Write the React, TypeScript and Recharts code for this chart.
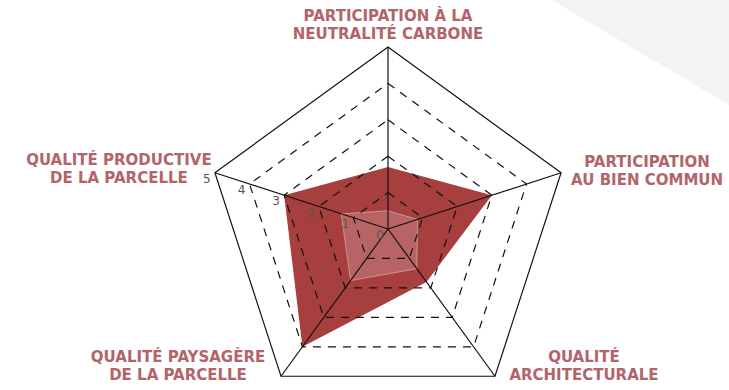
import { RadarChart, Radar, PolarGrid, PolarAngleAxis, PolarRadiusAxis } from 'recharts';

// axis names, clockwise from the top
const criteria = [
  'PARTICIPATION À LA\nNEUTRALITÉ CARBONE',
  'PARTICIPATION\nAU BIEN COMMUN',
  'QUALITÉ\nARCHITECTURALE',
  'QUALITÉ PAYSAGÈRE\nDE LA PARCELLE',
  'QUALITÉ PRODUCTIVE\nDE LA PARCELLE',
];
const projectScores = [1.7, 3, 1.8, 4, 3];
const referenceScores = [0.5, 0.85, 1.35, 1.75, 1.35];
const scaleTicks = [0, 1, 2, 3, 4, 5];

const data = criteria.map((name, i) => ({
  name,
  project: projectScores[i],
  reference: referenceScores[i],
}));

const CX = 388;
const CY = 229;
const R = 182;
const ANGLES = [90, 18, -54, -126, -198];

// label block offsets from the outer vertex, per axis
const labelOffsets = [
  { dx: 0, dy: -22 },
  { dx: 86, dy: -2 },
  { dx: 89, dy: -10 },
  { dx: -103, dy: -10 },
  { dx: -96, dy: -4 },
];

const AngleTick = ({ payload }: any) => {
  const i = payload.index;
  const a = ((90 - i * 72) * Math.PI) / 180;
  const vx = CX + R * Math.cos(a);
  const vy = CY - R * Math.sin(a);
  const off = labelOffsets[i];
  const lines = String(payload.value).split('\n');
  return (
    <text
      x={vx + off.dx}
      y={vy + off.dy}
      textAnchor="middle"
      fill="#b2646a"
      fontFamily="'DejaVu Sans', sans-serif"
      fontWeight={700}
      fontSize={15}
    >
      {lines.map((l, k) => (
        <tspan key={k} x={vx + off.dx} dy={k === 0 ? -4 : 18}>
          {l}
        </tspan>
      ))}
    </text>
  );
};

const RadiusTick = ({ x, y, payload }: any) => (
  <text
    x={x - 8}
    y={y + 10}
    textAnchor="middle"
    fill="#555"
    fontFamily="'DejaVu Sans', sans-serif"
    fontSize={12}
  >
    {payload.value}
  </text>
);

export default function App() {
  return (
    <div style={{ position: 'fixed', left: 0, top: 0, width: 729, height: 390, background: '#fff' }}>
      <svg width={729} height={390} style={{ position: 'absolute', left: 0, top: 0 }}>
        <polygon points="552,0 729,0 729,105" fill="#f3f3f3" />
      </svg>
      <div style={{ position: 'absolute', left: 0, top: 0 }}>
        <RadarChart
          width={729}
          height={390}
          data={data}
          cx={CX}
          cy={CY}
          outerRadius={R}
          margin={{ top: 0, right: 0, bottom: 0, left: 0 }}
        >
          <Radar
            dataKey="project"
            stroke="none"
            fill="#a63f3e"
            fillOpacity={1}
            isAnimationActive={false}
            zIndex={100}
          />
          <Radar
            dataKey="reference"
            stroke="#d9a0a0"
            strokeWidth={0.8}
            fill="#ffffff"
            fillOpacity={0.2}
            isAnimationActive={false}
            zIndex={101}
          />
          <PolarGrid
            gridType="polygon"
            polarRadius={[R / 5, (2 * R) / 5, (3 * R) / 5, (4 * R) / 5]}
            polarAngles={ANGLES}
            radialLines={false}
            stroke="#111"
            strokeWidth={1.2}
            strokeDasharray="8 7"
            zIndex={1000}
          />
          <PolarGrid
            gridType="polygon"
            polarRadius={[R]}
            polarAngles={ANGLES}
            radialLines
            stroke="#111"
            strokeWidth={1.2}
            zIndex={1000}
          />
          <PolarAngleAxis dataKey="name" tick={<AngleTick />} tickLine={false} axisLine={false} />
          <PolarRadiusAxis
            angle={162}
            domain={[0, 5]}
            ticks={scaleTicks}
            tick={<RadiusTick />}
            tickLine={false}
            axisLine={false}
            zIndex={1001}
          />
        </RadarChart>
      </div>
    </div>
  );
}
